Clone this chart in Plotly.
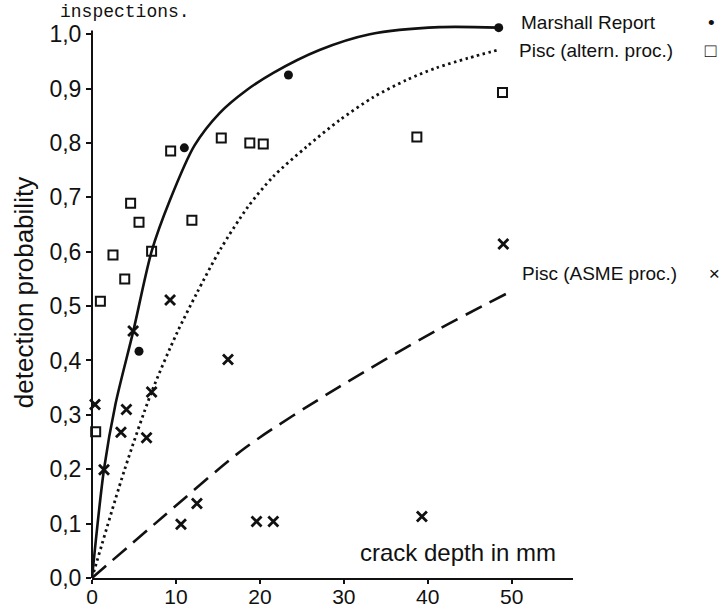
import plotly.graph_objects as go

# ---- data ----
# fitted curves
marshall_curve_x = [0, 1.43, 2.8, 4.92, 7.11, 9.29, 12.2, 15.2, 18.4, 21.6, 27.1, 33.1, 41.4, 48.45]
marshall_curve_y = [0, 0.20, 0.32, 0.454, 0.601, 0.695, 0.795, 0.855, 0.897, 0.929, 0.971, 1.0, 1.013, 1.012]

altern_curve_x = [0, 3.9, 7.1, 10.1, 12.46, 15.24, 18.6, 21.58, 25.56, 29.5, 33.5, 37.5, 41.0, 44.8, 48.6]
altern_curve_y = [0, 0.20, 0.342, 0.45, 0.523, 0.603, 0.683, 0.738, 0.793, 0.842, 0.884, 0.916, 0.938, 0.956, 0.972]

asme_curve_x = [0, 8.5, 18.3, 29.5, 41.0, 49.4]
asme_curve_y = [0, 0.113, 0.24, 0.352, 0.455, 0.523]

# measured points
marshall_x = [5.6, 11.0, 23.4, 48.45]
marshall_y = [0.417, 0.791, 0.925, 1.012]

altern_x = [0.44, 1.0, 2.5, 3.9, 4.6, 5.6, 7.1, 9.37, 11.9, 15.4, 18.8, 20.4, 38.7, 48.9]
altern_y = [0.269, 0.509, 0.594, 0.55, 0.689, 0.654, 0.601, 0.785, 0.658, 0.809, 0.80, 0.798, 0.811, 0.893]

asme_x = [0.36, 1.43, 3.45, 4.1, 4.9, 6.5, 7.1, 9.3, 10.6, 12.5, 16.2, 19.6, 21.6, 39.3, 49.0]
asme_y = [0.319, 0.199, 0.268, 0.31, 0.454, 0.258, 0.342, 0.511, 0.099, 0.137, 0.402, 0.104, 0.104, 0.113, 0.614]

x_ticks = [0, 10, 20, 30, 40, 50]
y_ticks = [0.0, 0.1, 0.2, 0.3, 0.4, 0.5, 0.6, 0.7, 0.8, 0.9, 1.0]
y_tick_text = ["0,0", "0,1", "0,2", "0,3", "0,4", "0,5", "0,6", "0,7", "0,8", "0,9", "1,0"]

NB = "\u00a0"
labels = ["Marshall Report" + NB * 10 + "\u2022",
          "Pisc (altern. proc.)" + NB * 6 + "\u25a1",
          "Pisc (ASME proc.)" + NB * 6 + "\u00d7"]
label_x = [50.9, 50.6, 51.0]
label_y = [1.022, 0.97, 0.56]

X_MAX = 57.3
Y_MAX = 1.05
Y_AXIS_TOP = 1.007

FONT = "Liberation Sans, Arial, sans-serif"
INK = "#111111"

fig = go.Figure()

fig.add_trace(go.Scatter(x=marshall_curve_x, y=marshall_curve_y, mode="lines",
                         line=dict(color=INK, width=2.6, shape="spline", smoothing=0.8),
                         hoverinfo="skip", showlegend=False))
fig.add_trace(go.Scatter(x=altern_curve_x, y=altern_curve_y, mode="lines",
                         line=dict(color=INK, width=2.8, dash="2.5px,3.5px", shape="spline", smoothing=0.8),
                         hoverinfo="skip", showlegend=False))
fig.add_trace(go.Scatter(x=asme_curve_x, y=asme_curve_y, mode="lines",
                         line=dict(color=INK, width=2.6, dash="18px,9px", shape="spline", smoothing=0.8),
                         hoverinfo="skip", showlegend=False))

fig.add_trace(go.Scatter(x=altern_x, y=altern_y, mode="markers", cliponaxis=False,
                         marker=dict(symbol="square-open", size=9, color=INK, line=dict(width=2, color=INK)),
                         name="Pisc (altern. proc.)", showlegend=False))
fig.add_trace(go.Scatter(x=asme_x, y=asme_y, mode="markers", cliponaxis=False,
                         marker=dict(symbol="x-thin-open", size=10, color=INK, line=dict(width=2.8, color=INK)),
                         name="Pisc (ASME proc.)", showlegend=False))
fig.add_trace(go.Scatter(x=marshall_x, y=marshall_y, mode="markers", cliponaxis=False,
                         marker=dict(symbol="circle", size=9, color=INK),
                         name="Marshall Report", showlegend=False))

for t, lx, ly in zip(labels, label_x, label_y):
    fig.add_annotation(x=lx, y=ly, xref="x", yref="y", text=t, showarrow=False,
                       xanchor="left", yanchor="middle",
                       font=dict(family=FONT, size=19, color=INK))

fig.add_annotation(x=55.5, y=0.046, xref="x", yref="y", text="crack depth in mm", showarrow=False,
                   xanchor="right", yanchor="middle", font=dict(family=FONT, size=24, color=INK))

PLOT_W = 725 - 92 - 152
PLOT_H = 608 - 7 - 30
fig.add_annotation(x=(58 - 92) / PLOT_W, y=1 + 7 / PLOT_H, xref="paper", yref="paper",
                   text="inspections.", showarrow=False, xanchor="left", yanchor="top",
                   font=dict(family="Liberation Mono, Courier New, monospace", size=18, color=INK))

# vertical axis line (ends just above 1,0)
fig.add_shape(type="line", xref="paper", yref="paper", x0=0, x1=0, y0=0, y1=Y_AXIS_TOP / Y_MAX,
              line=dict(color=INK, width=2))

fig.update_layout(
    width=725, height=608,
    margin=dict(l=92, r=152, t=7, b=30),
    paper_bgcolor="white", plot_bgcolor="white",
    font=dict(family=FONT, color=INK),
    xaxis=dict(range=[0, X_MAX], showgrid=False, zeroline=False, showline=True, linecolor=INK, linewidth=2,
               automargin=False,
               tickmode="array", tickvals=x_ticks, ticks="outside", ticklen=4, tickwidth=1.5, tickcolor=INK,
               ticklabelstandoff=-5,
               tickfont=dict(family=FONT, size=21, color=INK)),
    yaxis=dict(range=[0, Y_MAX], showgrid=False, zeroline=False, showline=False, automargin=False,
               tickmode="array", tickvals=y_ticks, ticktext=y_tick_text, ticks="outside", ticklen=5,
               tickwidth=1.5, tickcolor=INK, tickfont=dict(family=FONT, size=23, color=INK),
               title=dict(text="detection probability", font=dict(family=FONT, size=26, color=INK), standoff=8)),
)

fig.write_html("out.html")
